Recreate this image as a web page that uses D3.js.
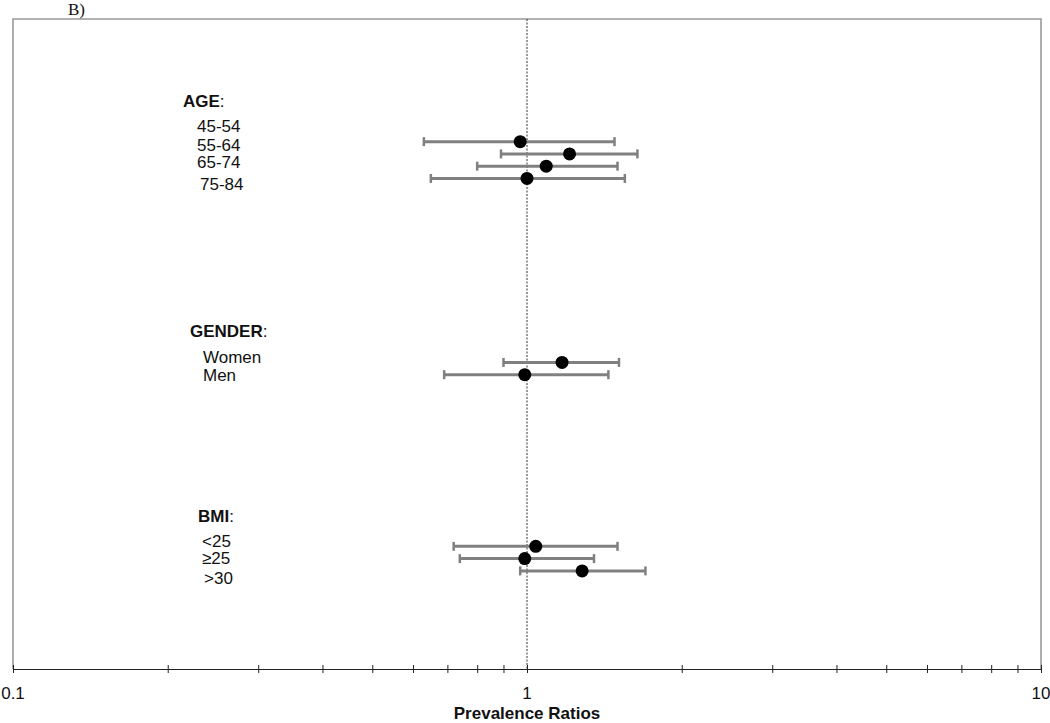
<!DOCTYPE html>
<html>
<head>
<meta charset="utf-8">
<script src="https://cdn.jsdelivr.net/npm/d3@7"></script>
<style>
  html, body { margin: 0; padding: 0; background: #fff; }
  svg { display: block; }
</style>
</head>
<body>
<svg id="chart" width="1050" height="723"></svg>
<script>
// ---- Data ----
const groups = ["AGE", "GENDER", "BMI"];
const categories = ["45-54", "55-64", "65-74", "75-84", "Women", "Men", "<25", "≥25", ">30"];
const categoryGroup = ["AGE", "AGE", "AGE", "AGE", "GENDER", "GENDER", "BMI", "BMI", "BMI"];
const ratio = [0.97, 1.21, 1.09, 1.00, 1.17, 0.99, 1.04, 0.99, 1.28];
const lower = [0.63, 0.89, 0.80, 0.65, 0.90, 0.69, 0.72, 0.74, 0.97];
const upper = [1.48, 1.64, 1.50, 1.55, 1.51, 1.44, 1.50, 1.35, 1.70];
const xTickLabels = ["0.1", "1", "10"];
const panelLabel = "B)";
const xTitle = "Prevalence Ratios";

// ---- Layout ----
const W = 1050, H = 723;
const plot = { left: 13, right: 1041, top: 19, bottom: 669 };
const svg = d3.select("#chart");
const font = "'Liberation Sans', Arial, Helvetica, sans-serif";
const fs = 17;

const x = d3.scaleLog().domain([0.1, 10]).range([plot.left, plot.right]);
// row positions: group start index + offset in group
const groupStart = { AGE: 0, GENDER: 18, BMI: 33 };
const rowPos = [];
const seen = {};
categories.forEach((c, i) => {
  const g = categoryGroup[i];
  seen[g] = (seen[g] || 0);
  rowPos.push(groupStart[g] + seen[g]);
  seen[g] += 1;
});
const y = d3.scaleLinear().domain([-10, 43]).range([plot.top, plot.bottom]);

// frame (left, top, right)
svg.append("path")
  .attr("d", `M${plot.left},${plot.bottom} V${plot.top} H${plot.right} V${plot.bottom}`)
  .attr("fill", "none").attr("stroke", "#999").attr("stroke-width", 1.6);

// x axis
const minorTicks = [];
[0.1, 1].forEach(b => { for (let k = 1; k <= 10; k++) minorTicks.push(b * k); });
const xAxis = d3.axisBottom(x)
  .tickValues(Array.from(new Set(minorTicks.map(v => +v.toPrecision(3)))))
  .tickSize(4).tickSizeOuter(0).tickFormat("");
const gx = svg.append("g").attr("transform", `translate(0,${plot.bottom})`).call(xAxis);
gx.select(".domain").attr("stroke", "#222").attr("stroke-width", 1.2);
gx.selectAll(".tick line").attr("stroke", "#222").attr("y1", -4).attr("y2", 4);

// tick labels
svg.append("g").selectAll("text").data(xTickLabels).join("text")
  .attr("x", d => x(+d)).attr("y", 699)
  .attr("text-anchor", "middle")
  .attr("font-family", font).attr("font-size", fs).attr("fill", "#111")
  .text(d => d);

// axis title
svg.append("text")
  .attr("x", x(1)).attr("y", 719)
  .attr("text-anchor", "middle")
  .attr("font-family", font).attr("font-size", fs).attr("font-weight", "bold").attr("fill", "#111")
  .text(xTitle);

// panel label
svg.append("text")
  .attr("x", 68).attr("y", 15)
  .attr("font-family", "'Liberation Serif', 'Times New Roman', serif").attr("font-size", 17).attr("fill", "#111")
  .text(panelLabel);

// reference line at 1
svg.append("line")
  .attr("x1", x(1)).attr("x2", x(1)).attr("y1", plot.top).attr("y2", plot.bottom)
  .attr("stroke", "#333").attr("stroke-width", 1).attr("stroke-dasharray", "2,1.5");

// error bars
const bars = svg.append("g");
categories.forEach((c, i) => {
  const yy = y(rowPos[i]);
  bars.append("line").attr("x1", x(lower[i])).attr("x2", x(upper[i])).attr("y1", yy).attr("y2", yy)
    .attr("stroke", "#808080").attr("stroke-width", 3);
  [lower[i], upper[i]].forEach(v => {
    bars.append("line").attr("x1", x(v)).attr("x2", x(v)).attr("y1", yy - 4.5).attr("y2", yy + 4.5)
      .attr("stroke", "#808080").attr("stroke-width", 2.5);
  });
});
// points
svg.append("g").selectAll("circle").data(categories).join("circle")
  .attr("cx", (d, i) => x(ratio[i])).attr("cy", (d, i) => y(rowPos[i]))
  .attr("r", 6.5).attr("fill", "#000");

// labels
const headingPos = { AGE: [183, 107], GENDER: [190, 337], BMI: [198, 522] };
const labelPos = [[197, 132], [197, 151], [197, 168], [200, 190], [203, 363], [203, 381], [202, 547], [202, 564], [204, 584]];
groups.forEach(g => {
  const t = svg.append("text")
    .attr("x", headingPos[g][0]).attr("y", headingPos[g][1])
    .attr("font-family", font).attr("font-size", fs).attr("fill", "#111");
  t.append("tspan").attr("font-weight", "bold").text(g);
  t.append("tspan").text(":");
});
svg.append("g").selectAll("text").data(categories).join("text")
  .attr("x", (d, i) => labelPos[i][0]).attr("y", (d, i) => labelPos[i][1])
  .attr("font-family", font).attr("font-size", fs).attr("fill", "#111")
  .text(d => d);
</script>
</body>
</html>
